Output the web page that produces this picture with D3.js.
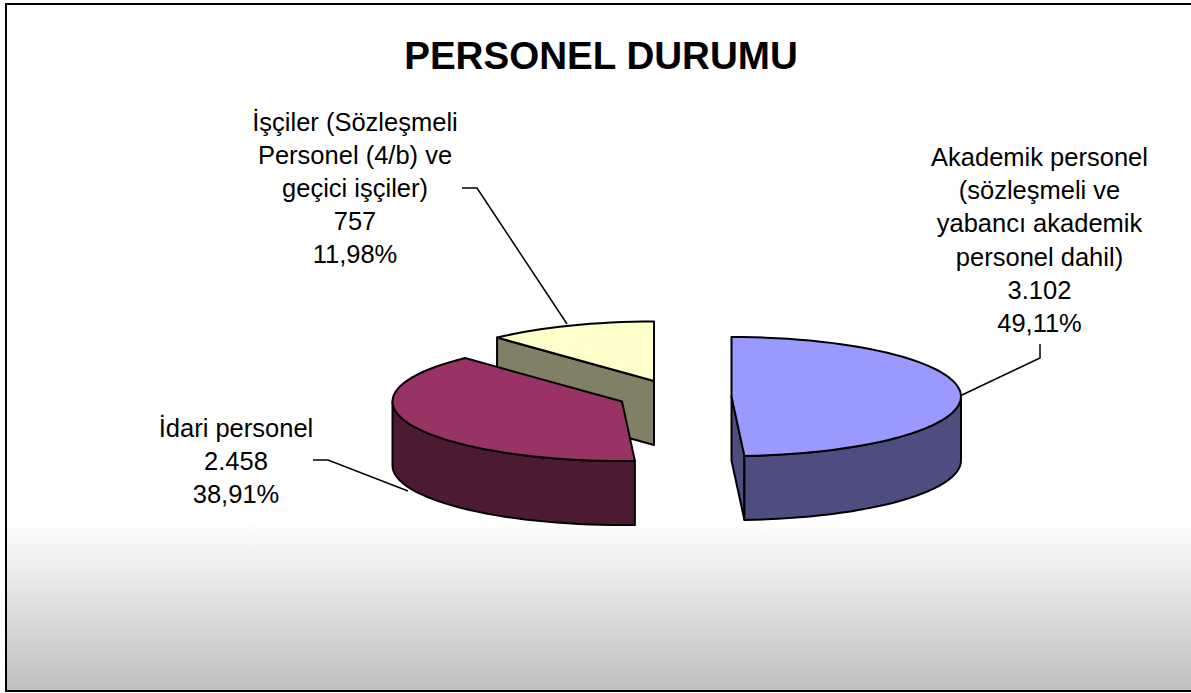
<!DOCTYPE html>
<meta charset="utf-8">
<style>
  html, body { margin: 0; padding: 0; background: #fff; }
  text { font-family: "Liberation Sans", Arial, sans-serif; fill: #000; }
</style>
<script src="https://d3js.org/d3.v7.min.js"></script>
<div id="chart"></div>
<script>
// data
const categories = ["Akademik personel", "İdari personel", "İşçiler"];
const values = [3102, 2458, 757];
const topColors = ["#9999ff", "#993366", "#ffffcc"];
const sideColors = ["#4d4d80", "#4d1a33", "#808066"];
const labels = [
  ["Akademik personel", "(sözleşmeli ve", "yabancı akademik", "personel dahil)", "3.102", "49,11%"],
  ["İdari personel", "2.458", "38,91%"],
  ["İşçiler (Sözleşmeli", "Personel (4/b) ve", "geçici işçiler)", "757", "11,98%"]
];

const width = 1191, height = 693;
const rx = 229.5, ry = 59.5, depth = 64;
// centre of each exploded slice
const centers = [[731.5, 396.5], [622, 401.5], [654, 381]];
const labelX = [1039.5, 236, 355];
const labelY = [166, 437, 130.5];
const lineH = 33.2;
const leaders = [
  [[962, 395], [1040, 358], [1040, 344]],
  [[408, 491], [328, 460], [313, 460]],
  [[567, 324], [477, 188], [462, 188]]
];

const svg = d3.select("#chart").append("svg")
  .attr("width", width).attr("height", height)
  .style("display", "block");

const grad = svg.append("defs").append("linearGradient")
  .attr("id", "bg").attr("x1", 0).attr("x2", 0).attr("y1", 0).attr("y2", 1);
grad.append("stop").attr("offset", "0.75").attr("stop-color", "#ffffff");
grad.append("stop").attr("offset", "1").attr("stop-color", "#bfbfbf");

svg.append("rect")
  .attr("x", 6).attr("y", 4).attr("width", width + 10).attr("height", height - 6)
  .attr("fill", "url(#bg)").attr("stroke", "#000").attr("stroke-width", 2);

svg.append("text")
  .attr("x", 601).attr("y", 69)
  .attr("text-anchor", "middle")
  .style("font-size", "38.6px").style("font-weight", "bold")
  .text("PERSONEL DURUMU");

const slices = d3.pie().sort(null).value(d => d)(values);

// angle 0 is up, clockwise, squashed into an ellipse
function project(i, a, z) {
  const x = d3.scaleLinear().domain([-1, 1]).range([centers[i][0] - rx, centers[i][0] + rx]);
  const y = d3.scaleLinear().domain([-1, 1]).range([centers[i][1] - ry, centers[i][1] + ry]);
  return [x(Math.sin(a)), y(-Math.cos(a)) + (z || 0)];
}
// coarse steps, the original outline is a visible polyline
function arcPoints(i, a0, a1, z) {
  const n = Math.max(2, Math.ceil(Math.abs(a1 - a0) / 0.05));
  return d3.range(n + 1).map(k => project(i, a0 + (a1 - a0) * k / n, z));
}
const line = d3.line().curve(d3.curveLinear);
const closed = pts => line(pts) + "Z";

const g = svg.append("g").attr("stroke", "#000").attr("stroke-width", 2).attr("stroke-linejoin", "round");

// back to front: yellow, then blue, then red
[2, 0, 1].forEach(i => {
  const s = slices[i];
  const c = centers[i];
  const a0 = s.startAngle, a1 = s.endAngle;
  // cut face towards the viewer
  const cutA = i === 0 ? a1 : (i === 2 ? a0 : null);
  if (cutA !== null) {
    const p = project(i, cutA, 0), q = project(i, cutA, depth);
    g.append("path").attr("fill", sideColors[i])
      .attr("d", closed([c, p, q, [c[0], c[1] + depth]]));
  }
  // outer wall, only the front half of the ellipse shows
  const w0 = Math.max(a0, Math.PI / 2), w1 = Math.min(a1, Math.PI * 1.5);
  if (w1 > w0) {
    g.append("path").attr("fill", sideColors[i])
      .attr("d", closed(arcPoints(i, w0, w1, 0).concat(arcPoints(i, w1, w0, depth))));
  }
  // top
  g.append("path").attr("fill", topColors[i])
    .attr("d", closed([c].concat(arcPoints(i, a0, a1, 0))));
});

// leader lines
svg.append("g").selectAll("path").data(leaders).join("path")
  .attr("fill", "none").attr("stroke", "#000").attr("stroke-width", 1.5)
  .attr("d", d => line(d));

// data labels
labels.forEach((rows, i) => {
  const t = svg.append("text").attr("text-anchor", "middle").style("font-size", "25.5px");
  rows.forEach((r, k) => {
    t.append("tspan").attr("x", labelX[i]).attr("y", labelY[i] + k * lineH).text(r);
  });
});
</script>
